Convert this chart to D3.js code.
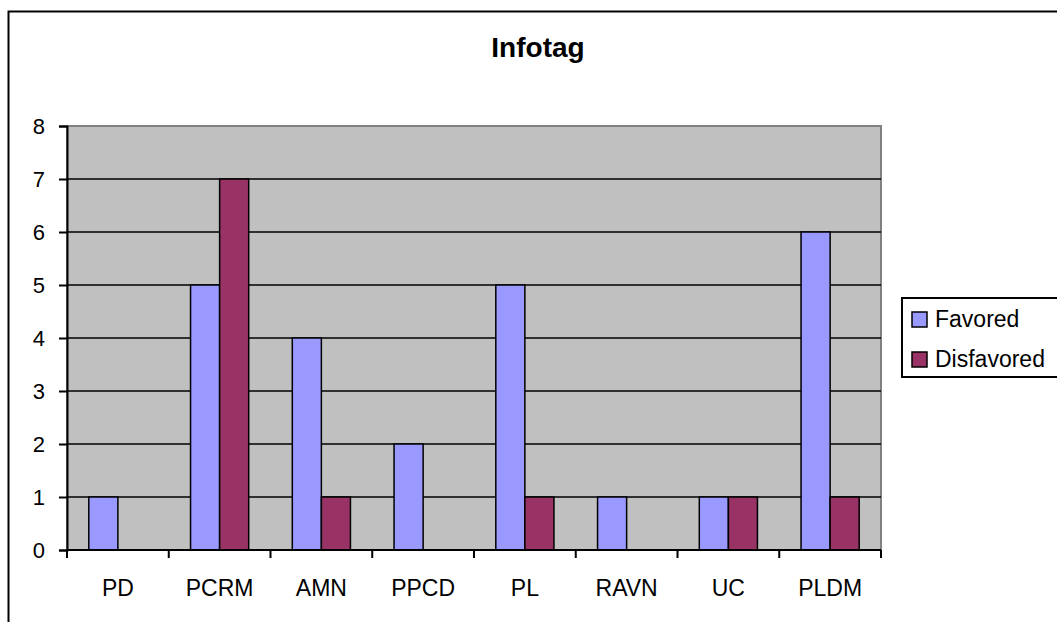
<!DOCTYPE html>
<html>
<head>
<meta charset="utf-8">
<script src="https://cdn.jsdelivr.net/npm/d3@7"></script>
<style>
  body { margin: 0; background: #fff; }
  text { font-family: "Liberation Sans", Arial, sans-serif; }
</style>
</head>
<body>
<div id="chart"></div>
<script>
// data
const categories = ["PD", "PCRM", "AMN", "PPCD", "PL", "RAVN", "UC", "PLDM"];
const favored    = [1, 5, 4, 2, 5, 1, 1, 6];
const disfavored = [0, 7, 1, 0, 1, 0, 1, 1];
const seriesNames = ["Favored", "Disfavored"];
const seriesColors = ["#9999FF", "#993366"];
const yTicks = [0, 1, 2, 3, 4, 5, 6, 7, 8];

const width = 1057, height = 622;
const plot = { left: 67, top: 126, right: 881, bottom: 550 };

const svg = d3.select("#chart").append("svg")
  .attr("width", width)
  .attr("height", height);

// outer chart frame (runs off the right and bottom edges)
svg.append("rect")
  .attr("x", 8.5).attr("y", 11.5)
  .attr("width", 1100).attr("height", 700)
  .attr("fill", "#fff")
  .attr("stroke", "#000")
  .attr("stroke-width", 2);

const x0 = d3.scaleBand()
  .domain(categories)
  .range([plot.left, plot.right])
  .paddingInner(0).paddingOuter(0);

// group takes 2 of 3.5 bar widths (gap width 150%)
const x1 = d3.scaleBand()
  .domain(seriesNames)
  .range([0, x0.bandwidth()])
  .paddingOuter(0.75).paddingInner(0);

const y = d3.scaleLinear()
  .domain([0, 8])
  .range([plot.bottom, plot.top]);

// plot area
svg.append("rect")
  .attr("x", plot.left).attr("y", plot.top)
  .attr("width", plot.right - plot.left)
  .attr("height", plot.bottom - plot.top)
  .attr("fill", "#C0C0C0")
  .attr("stroke", "#808080")
  .attr("stroke-width", 2);

// gridlines
svg.append("g")
  .selectAll("line")
  .data(yTicks.filter(d => d > 0 && d < 8))
  .join("line")
  .attr("x1", plot.left).attr("x2", plot.right)
  .attr("y1", d => y(d)).attr("y2", d => y(d))
  .attr("stroke", "#000")
  .attr("stroke-width", 1.5);

// bars
const rows = categories.map((c, i) => ({ cat: c, values: [favored[i], disfavored[i]] }));

const groups = svg.append("g")
  .selectAll("g")
  .data(rows)
  .join("g")
  .attr("transform", d => `translate(${x0(d.cat)},0)`);

groups.selectAll("rect")
  .data(d => d.values.map((v, j) => ({ name: seriesNames[j], value: v, color: seriesColors[j] })))
  .join("rect")
  .filter(d => d.value > 0)
  .attr("x", d => x1(d.name))
  .attr("y", d => y(d.value))
  .attr("width", x1.bandwidth())
  .attr("height", d => y(0) - y(d.value))
  .attr("fill", d => d.color)
  .attr("stroke", "#000")
  .attr("stroke-width", 1.5);

// y axis
const yAxis = svg.append("g")
  .attr("transform", `translate(${plot.left},0)`)
  .call(d3.axisLeft(y).tickValues(yTicks).tickFormat(d3.format("d")).tickSizeOuter(0).tickSize(8).tickPadding(14));
yAxis.select(".domain").attr("stroke", "#000").attr("stroke-width", 2);
yAxis.selectAll(".tick line").attr("stroke", "#000").attr("stroke-width", 2);
yAxis.selectAll("text")
  .attr("fill", "#000")
  .attr("font-size", 22)
  .attr("font-family", "Liberation Sans, Arial, sans-serif");

// x axis: ticks at category boundaries, labels centered
const xAxisG = svg.append("g");
xAxisG.append("line")
  .attr("x1", plot.left).attr("x2", plot.right)
  .attr("y1", plot.bottom).attr("y2", plot.bottom)
  .attr("stroke", "#000").attr("stroke-width", 2);
const bounds = categories.map(c => x0(c)).concat([plot.right]);
xAxisG.selectAll("line.tk")
  .data(bounds)
  .join("line")
  .attr("class", "tk")
  .attr("x1", d => d).attr("x2", d => d)
  .attr("y1", plot.bottom).attr("y2", plot.bottom + 8)
  .attr("stroke", "#000").attr("stroke-width", 2);
xAxisG.selectAll("text")
  .data(categories)
  .join("text")
  .attr("x", d => x0(d) + x0.bandwidth() / 2)
  .attr("y", 596)
  .attr("text-anchor", "middle")
  .attr("font-size", 23)
  .attr("fill", "#000")
  .text(d => d);

// title
svg.append("text")
  .attr("x", 538).attr("y", 57)
  .attr("text-anchor", "middle")
  .attr("font-size", 28)
  .attr("font-weight", "bold")
  .attr("fill", "#000")
  .text("Infotag");

// legend
const legend = svg.append("g");
legend.append("rect")
  .attr("x", 902).attr("y", 298)
  .attr("width", 160).attr("height", 79)
  .attr("fill", "#fff")
  .attr("stroke", "#000")
  .attr("stroke-width", 2);
const items = legend.selectAll("g.item")
  .data(seriesNames)
  .join("g")
  .attr("class", "item")
  .attr("transform", (d, i) => `translate(0,${i * 40})`);
items.append("rect")
  .attr("x", 912).attr("y", 312)
  .attr("width", 15).attr("height", 15)
  .attr("fill", (d, i) => seriesColors[i])
  .attr("stroke", "#000")
  .attr("stroke-width", 1.5);
items.append("text")
  .attr("x", 935).attr("y", 327)
  .attr("font-size", 23)
  .attr("fill", "#000")
  .text(d => d);
</script>
</body>
</html>
